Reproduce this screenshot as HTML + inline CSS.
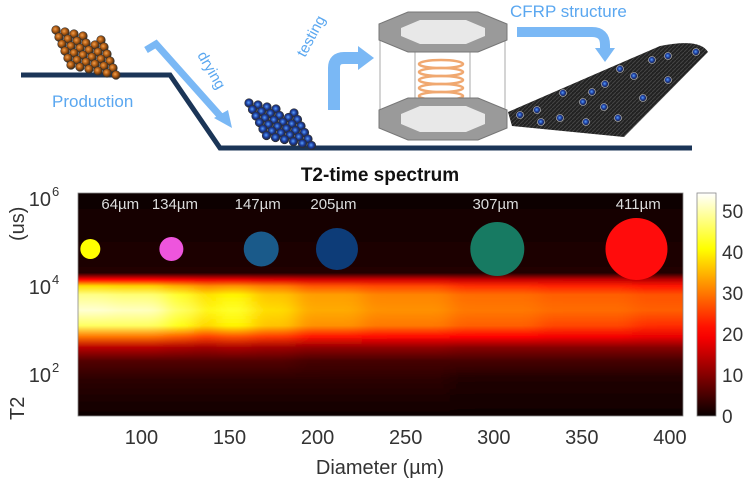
<!DOCTYPE html>
<html><head><meta charset="utf-8">
<style>
html,body{margin:0;padding:0;background:#fff;}
svg{display:block;font-family:"Liberation Sans","DejaVu Sans",sans-serif;}
</style></head>
<body>
<svg id="fig" width="749" height="484" viewBox="0 0 749 484" xmlns="http://www.w3.org/2000/svg">
<defs>
  <radialGradient id="gOr" cx="40%" cy="40%" r="60%"><stop offset="0" stop-color="#f0a050"/><stop offset="0.5" stop-color="#b05a10"/><stop offset="1" stop-color="#3a2a1a"/></radialGradient>
  <radialGradient id="gBl" cx="45%" cy="45%" r="60%"><stop offset="0" stop-color="#5aa0ff"/><stop offset="0.5" stop-color="#1a3a9a"/><stop offset="1" stop-color="#222"/></radialGradient>
  <pattern id="carbon" width="4" height="4" patternUnits="userSpaceOnUse"><rect width="4" height="4" fill="#222"/><path d="M0 4L4 0" stroke="#444" stroke-width="1"/></pattern>
  <filter id="hblur" x="0" y="0" width="1" height="1"><feGaussianBlur stdDeviation="9 0" edgeMode="duplicate"/></filter>
  <clipPath id="plotClip"><rect x="78" y="193" width="605" height="223"/></clipPath>
  <linearGradient id="cbGrad" x1="0" y1="1" x2="0" y2="0"></linearGradient>
</defs>

<g>
  <polyline points="21,75 170,75 220,148 692,148" fill="none" stroke="#1b3557" stroke-width="5"/>
  <text x="52" y="107" font-size="17" fill="#5aa7f0">Production</text>
  <g id="pileOrange"></g>
  <g id="pileBlue"></g>
  <path d="M146,50 L156,44 L222,118" fill="none" stroke="#7ab8f5" stroke-width="7"/>
  <polygon points="214,118 232,128 228,110" fill="#7ab8f5"/>
  <text x="197" y="55" font-size="15" fill="#5aa7f0" transform="rotate(60 197 55)">drying</text>
  <text x="305" y="58" font-size="15" fill="#5aa7f0" transform="rotate(-62 305 58)">testing</text>
  <path d="M334,110 L334,68 Q334,58 344,58 L360,58" fill="none" stroke="#7ab8f5" stroke-width="12"/>
  <polygon points="358,46 374,58 358,70" fill="#7ab8f5"/>
  <g>
    <line x1="380" y1="32" x2="380" y2="118" stroke="#aaa"/><line x1="505" y1="32" x2="505" y2="118" stroke="#aaa"/>
    <line x1="415" y1="48" x2="415" y2="135" stroke="#aaa"/><line x1="470" y1="48" x2="470" y2="135" stroke="#aaa"/>
    <polygon points="408,12 478,12 507,24 507,40 478,52 408,52 379,40 379,24" fill="#9a9a9a" stroke="#777"/>
    <polygon points="420,20 466,20 485,28 485,36 466,44 420,44 401,36 401,28" fill="#e8e8e8"/>
    <g fill="none" stroke="#f0a870" stroke-width="2.5">
      <ellipse cx="441" cy="64" rx="22" ry="4"/><ellipse cx="441" cy="72" rx="22" ry="4"/><ellipse cx="441" cy="80" rx="22" ry="4"/>
      <ellipse cx="441" cy="88" rx="22" ry="4"/><ellipse cx="441" cy="96" rx="22" ry="4"/><ellipse cx="441" cy="103" rx="22" ry="4"/>
    </g>
    <polygon points="408,98 478,98 507,110 507,128 478,140 408,140 379,128 379,110" fill="#9a9a9a" stroke="#777"/>
    <polygon points="420,106 466,106 485,114 485,124 466,132 420,132 401,124 401,114" fill="#e8e8e8"/>
  </g>
  <text x="510" y="17" font-size="17" fill="#5aa7f0">CFRP structure</text>
  <path d="M517,32 L592,32 Q605,32 605,45 L605,50" fill="none" stroke="#7ab8f5" stroke-width="10"/>
  <polygon points="595,48 615,48 605,62" fill="#7ab8f5"/>
  <path d="M508,112 L600,72 L660,46 Q700,38 708,52 L624,137 L512,126 Z" fill="url(#carbon)"/>
  <g id="cfrpDots"></g>
</g>

<text x="380" y="181" font-size="19" font-weight="bold" text-anchor="middle" fill="#111">T2-time spectrum</text>
<g id="heat" clip-path="url(#plotClip)"><rect x="78" y="193" width="605" height="223" fill="#080000"/><g id="heatCols" filter="url(#hblur)"></g></g>
<g id="markers"></g>
<rect x="78" y="193" width="605" height="223" fill="none" stroke="#888" stroke-width="0.8"/>
<g id="xticks"></g>
<g id="yticks"></g>
<text x="380" y="474" font-size="20" text-anchor="middle" fill="#333">Diameter (µm)</text>
<text x="24" y="420" font-size="20" fill="#333" transform="rotate(-90 24 420)">T2</text>
<text x="24" y="241" font-size="20" fill="#333" transform="rotate(-90 24 241)">(us)</text>
<g id="colorbar"></g>
</svg>

<script>
// ---- chart data ----
const diameters = [64,100,125,135,150,175,200,250,300,350,407];
const logT2Rows = [1.0,1.9,2.3,2.6,2.85,3.1,3.45,3.8,4.0,4.15,4.3,6.1];
const col64  = [0.5,3,6,14,30,46,52,48,38,20,2,0.5];
const col100 = [0.5,3,6,14,30,46,51,47,37,20,2,0.5];
const col125 = [0.5,3,6,13,28,42,46,43,34,19,2,0.5];
const col135 = [0.5,3,6,12,25,37,40,38,31,18,2,0.5];
const col150 = [0.5,3,6,13,27,40,43,40,32,18,2,0.5];
const col175 = [0.5,3,6,12,25,36,38,36,30,17,2,0.5];
const col200 = [0.5,3,5,11,22,32,34,33,27,16,2,0.5];
const col250 = [0.5,3,5,11,21,30,32,31,26,16,2,0.5];
const col300 = [0.5,2,5,10,20,28,30,29,24,15,2,0.5];
const col350 = [0.5,2,5,10,19,26,29,28,23,15,2,0.5];
const col407 = [0.5,2,5,10,18,24,28,27,22,14,2,0.5];
const intensity = [col64,col100,col125,col135,col150,col175,col200,col250,col300,col350,col407];
const xTicks = [100,150,200,250,300,350,400];
const yTickExp = [2,4,6];
const cbTicks = [0,10,20,30,40,50];
const markerLabels = ["64µm","134µm","147µm","205µm","307µm","411µm"];
const markerX = [71,117,168,211,302,381];
const markerR = [10,12,17.5,21,27,31];
const markerColors = ["#ffff00","#ee55dd","#1a5a8a","#0d3c78","#177a62","#ff0c0c"];
const labelX = [88,119,166,209,301,382];

const X0=78,X1=683,Y0=193,Y1=416, D0=64,D1=407.4, L0=1.05,L1=6.11, VMAX=54.4;
const xs = d => X0 + (d-D0)/(D1-D0)*(X1-X0);
const ys = l => Y1 - (l-L0)/(L1-L0)*(Y1-Y0);
function hot(v){const t=Math.max(0,Math.min(1,v/VMAX));
  const r=Math.min(1,t/0.375+0.03), g=Math.max(0,Math.min(1,(t-0.375)/0.375)), b=Math.max(0,Math.min(1,(t-0.75)/0.25));
  return `rgb(${Math.round(r*255)},${Math.round(g*255)},${Math.round(b*255)})`;}
const NS="http://www.w3.org/2000/svg";
function mk(tag,attrs,parent){const e=document.createElementNS(NS,tag);for(const k in attrs)e.setAttribute(k,attrs[k]);parent.appendChild(e);return e;}
const defs=document.querySelector('defs');

const heatCols=document.getElementById('heatCols');
diameters.forEach((d,i)=>{
  const left = i===0?X0-20:(xs(diameters[i-1])+xs(d))/2;
  const right = i===diameters.length-1?X1+20:(xs(d)+xs(diameters[i+1]))/2;
  const g=mk('linearGradient',{id:'hc'+i,x1:0,y1:Y1,x2:0,y2:Y0,gradientUnits:'userSpaceOnUse'},defs);
  logT2Rows.forEach((l,j)=>{mk('stop',{offset:((l-L0)/(L1-L0)).toFixed(4),'stop-color':hot(intensity[i][j])},g);});
  const r=mk('rect',{x:left,y:Y0-5,width:right-left+0.5,height:Y1-Y0+10,fill:'url(#hc'+i+')'},heatCols);
  
  
});

const markers=document.getElementById('markers');
markerLabels.forEach((lab,i)=>{
  const c=mk('circle',{cx:xs(markerX[i]),cy:249,r:markerR[i],fill:markerColors[i]},markers);
  
  
  const t=mk('text',{x:xs(labelX[i]),y:209,'font-size':15,'text-anchor':'middle',fill:'#dcdcdc'},markers);
  t.textContent=lab;
  
  
});

const xt=document.getElementById('xticks');
xTicks.forEach(v=>{
  const t=mk('text',{x:xs(v),y:444,'font-size':20,'text-anchor':'middle',fill:'#333'},xt);
  t.textContent=v;
  
  
});
const yt=document.getElementById('yticks');
yTickExp.forEach(e=>{
  const t=mk('text',{x:44,y:ys(e)+8,'font-size':20,'text-anchor':'middle',fill:'#333'},yt);
  t.textContent='10';
  const s=mk('tspan',{dx:1,dy:-10,'font-size':13},t); s.textContent=e;
  
  
});
const cb=document.getElementById('colorbar');
const cg=document.getElementById('cbGrad');
for(let k=0;k<=20;k++){mk('stop',{offset:k/20,'stop-color':hot(k/20*VMAX)},cg);}
const cbr=mk('rect',{x:697,y:193,width:19,height:223,fill:'url(#cbGrad)',stroke:'#888','stroke-width':0.8},cb);


cbTicks.forEach(v=>{
  const y=Y1-(v/VMAX)*(Y1-Y0);
  const t=mk('text',{x:722,y:y+7,'font-size':19,fill:'#333'},cb);
  t.textContent=v;
  
  
});

function pile(id,x0,y0,rows,cols,grad,sx,sy,shear){
  const g=document.getElementById(id);
  for(let r=0;r<rows;r++)for(let c=0;c<cols;c++){
    if((r+c)%5===4&&r===0)continue;
    mk('circle',{cx:x0+c*sx+r*shear,cy:y0+r*sy+c*2,r:4.3,fill:'url(#'+grad+')',stroke:'#333','stroke-width':0.6},g);
  }
}
pile('pileOrange',56,30,6,6,'gOr',9,7,3);
pile('pileBlue',249,103,6,6,'gBl',9,6.5,3.5);
const dots=[[520,115],[537,110],[541,122],[563,93],[560,118],[583,102],[592,92],[586,122],[605,84],[604,107],[620,69],[618,118],[634,76],[643,98],[652,60],[668,56],[668,80],[696,52]];
const dg=document.getElementById('cfrpDots');
dots.forEach(p=>{mk('circle',{cx:p[0],cy:p[1],r:3.5,fill:'url(#gBl)',stroke:'#ccc','stroke-width':0.6},dg);});
</script>
</body></html>
